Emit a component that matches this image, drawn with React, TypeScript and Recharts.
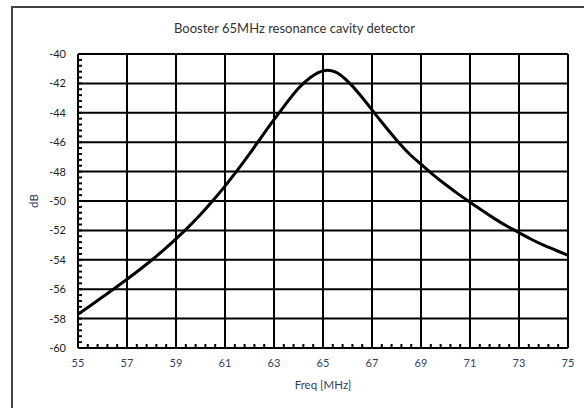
import React from 'react';
import {
  LineChart,
  Line,
  XAxis,
  YAxis,
  CartesianGrid,
  Label,
} from 'recharts';

// frequency in MHz, response in dB
const freqs = [
  55, 55.5, 56, 56.5, 57, 57.5, 58, 58.5, 59, 59.5, 60, 60.5, 61, 61.5, 62,
  62.5, 63, 63.5, 64, 64.5, 65, 65.5, 66, 66.5, 67, 67.5, 68, 68.5, 69, 69.5,
  70, 70.5, 71, 71.5, 72, 72.5, 73, 73.5, 74, 74.5, 75,
];
const gainDb = [
  -57.7, -57.12, -56.53, -55.93, -55.32, -54.69, -54.03, -53.33, -52.58, -51.78,
  -50.92, -49.99, -48.99, -47.92, -46.8, -45.62, -44.47, -43.36, -42.33, -41.58,
  -41.15, -41.22, -41.85, -42.75, -43.8, -44.85, -45.85, -46.75, -47.5, -48.22,
  -48.88, -49.5, -50.08, -50.65, -51.2, -51.7, -52.15, -52.6, -53.0, -53.35,
  -53.7,
];

const xMajor = [55, 57, 59, 61, 63, 65, 67, 69, 71, 73, 75];
const yMajor = [-60, -58, -56, -54, -52, -50, -48, -46, -44, -42, -40];

const data = freqs.map((f, i) => ({ freq: f, db: gainDb[i] }));

// minor ticks: 4 between each pair of major ticks
const withMinor = (major: number[]) => {
  const out: number[] = [];
  for (let i = 0; i < major.length - 1; i++) {
    const step = (major[i + 1] - major[i]) / 5;
    for (let k = 0; k < 5; k++) out.push(+(major[i] + k * step).toFixed(3));
  }
  out.push(major[major.length - 1]);
  return out;
};

const xTicks = withMinor(xMajor);
const yTicks = withMinor(yMajor);

const FONT = 'Lato, "Open Sans", sans-serif';

const XTick = (props: any) => {
  const { x, y, payload } = props;
  if (!xMajor.includes(payload.value)) return <g />;
  return (
    <text x={x} y={y} dy={9} textAnchor="middle" fontSize={11} fontFamily={FONT} fill="#34406a">
      {payload.value}
    </text>
  );
};

const YTick = (props: any) => {
  const { x, y, payload } = props;
  if (!yMajor.includes(payload.value)) return <g />;
  return (
    <text x={x} y={y} dy={4} textAnchor="end" fontSize={11} fontFamily={FONT} fill="#222">
      {payload.value}
    </text>
  );
};

export default function App() {
  return (
    <div
      style={{
        position: 'absolute',
        left: 0,
        top: 0,
        width: 584,
        height: 408,
        overflow: 'hidden',
        background: '#fff',
      }}
    >
      <div
        style={{
          position: 'absolute',
          left: 11,
          top: 6,
          width: 600,
          height: 430,
          border: '2px solid #444',
        }}
      />
      <div
        style={{
          position: 'absolute',
          left: 0,
          top: 20,
          width: 589,
          textAlign: 'center',
          fontFamily: FONT,
          fontSize: 13,
          color: '#333',
        }}
      >
        Booster 65MHz resonance cavity detector
      </div>
      <div style={{ position: 'absolute', left: 0, top: 0 }}>
        <LineChart
          width={584}
          height={408}
          data={data}
          margin={{ top: 54, right: 16, bottom: 16, left: 0 }}
        >
          <CartesianGrid
            stroke="#000"
            strokeWidth={2}
            verticalValues={xMajor}
            horizontalValues={yMajor}
          />
          <XAxis
            dataKey="freq"
            type="number"
            domain={[55, 75]}
            ticks={xTicks}
            interval={0}
            height={44}
            tickSize={-4}
            tickMargin={14}
            tick={<XTick />}
            tickLine={{ stroke: '#000', strokeWidth: 2 }}
            stroke="#000"
            strokeWidth={2}
          >
            <Label
              value="Freq [MHz]"
              position="insideBottom"
              offset={3}
              style={{ fontFamily: FONT, fontSize: 11.5, fill: '#34406a' }}
            />
          </XAxis>
          <YAxis
            type="number"
            domain={[-60, -40]}
            ticks={yTicks}
            interval={0}
            width={78}
            tickSize={-4}
            tickMargin={16}
            tick={<YTick />}
            tickLine={{ stroke: '#000', strokeWidth: 2 }}
            stroke="#000"
            strokeWidth={2}
          >
            <Label
              value="dB"
              angle={-90}
              position="insideLeft"
              offset={34}
              style={{ fontFamily: FONT, fontSize: 11.5, fill: '#34406a', textAnchor: 'middle' }}
            />
          </YAxis>
          <Line
            type="natural"
            dataKey="db"
            stroke="#000"
            strokeWidth={3}
            dot={false}
            isAnimationActive={false}
          />
        </LineChart>
      </div>
    </div>
  );
}
